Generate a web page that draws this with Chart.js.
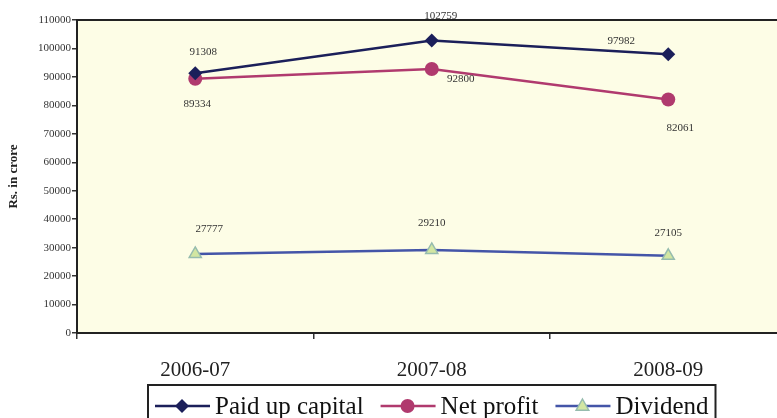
<!DOCTYPE html>
<html>
<head>
<meta charset="utf-8">
<script src="https://cdn.jsdelivr.net/npm/chart.js@4.4.1/dist/chart.umd.min.js"></script>
<style>
  html, body { margin: 0; padding: 0; background: #fff; overflow: hidden; }
  #wrap { width: 795px; height: 418px; }
</style>
</head>
<body>
<div id="wrap"><canvas id="chart"></canvas></div>
<script>
// chart values
var years = ['2006-07', '2007-08', '2008-09'];
var paidUpCapital = [91308, 102759, 97982];
var netProfit = [89334, 92800, 82061];
var dividend = [27777, 29210, 27105];
var yTicks = [0, 10000, 20000, 30000, 40000, 50000, 60000, 70000, 80000, 90000, 100000, 110000];

var serif = '"Liberation Serif", "DejaVu Serif", serif';

// where each value label sits relative to its point
var labelOffsets = [
    [[8, -21], [9, -24], [-47, -13]],
    [[2, 25], [29, 10], [12, 29]],
    [[14, -25], [0, -27], [0, -23]]
];

function drawMarker(ctx, style, x, y, r, fill, stroke, lw) {
    ctx.save();
    ctx.fillStyle = fill;
    ctx.strokeStyle = stroke;
    ctx.lineWidth = lw;
    ctx.beginPath();
    if (style === 'rectRot') {
        ctx.moveTo(x, y - r); ctx.lineTo(x + r, y); ctx.lineTo(x, y + r); ctx.lineTo(x - r, y);
    } else if (style === 'triangle') {
        ctx.moveTo(x, y - r); ctx.lineTo(x + r * 0.9, y + r * 0.6); ctx.lineTo(x - r * 0.9, y + r * 0.6);
    } else {
        ctx.arc(x, y, r, 0, Math.PI * 2);
    }
    ctx.closePath();
    ctx.fill();
    if (lw > 0) ctx.stroke();
    ctx.restore();
}

var framePlugin = {
    id: 'frame',
    beforeDraw: function(chart) {
        var a = chart.chartArea, ctx = chart.ctx;
        ctx.save();
        ctx.fillStyle = '#fdfde6';
        ctx.fillRect(a.left, a.top, a.right - a.left, a.bottom - a.top);
        ctx.restore();
    },
    afterDraw: function(chart) {
        var a = chart.chartArea, ctx = chart.ctx;
        ctx.save();
        ctx.strokeStyle = '#222';
        ctx.lineWidth = 2;
        ctx.beginPath();
        ctx.moveTo(a.left, a.top);
        ctx.lineTo(chart.width, a.top);
        ctx.stroke();
        ctx.restore();
    }
};

var valueLabels = {
    id: 'valueLabels',
    afterDatasetsDraw: function(chart) {
        var ctx = chart.ctx;
        ctx.save();
        ctx.font = '11px ' + serif;
        ctx.fillStyle = '#333';
        ctx.textAlign = 'center';
        ctx.textBaseline = 'middle';
        chart.data.datasets.forEach(function(ds, di) {
            chart.getDatasetMeta(di).data.forEach(function(pt, i) {
                var off = labelOffsets[di][i];
                ctx.fillText(String(ds.data[i]), pt.x + off[0], pt.y + off[1]);
            });
        });
        ctx.restore();
    }
};

var boxLegend = {
    id: 'boxLegend',
    afterDraw: function(chart) {
        var ctx = chart.ctx;
        var top = 385, midY = 406;
        ctx.save();
        ctx.font = '25px ' + serif;
        ctx.textBaseline = 'middle';
        var x = 155;
        chart.data.datasets.forEach(function(ds) {
            ctx.strokeStyle = ds.borderColor;
            ctx.lineWidth = 2.5;
            ctx.beginPath();
            ctx.moveTo(x, midY);
            ctx.lineTo(x + 55, midY);
            ctx.stroke();
            drawMarker(ctx, ds.pointStyle, x + 27, midY, ds.pointRadius, ds.pointBackgroundColor,
                ds.pointBorderColor, ds.pointBorderWidth);
            ctx.fillStyle = '#111';
            ctx.fillText(ds.label, x + 60, midY + 1);
            x = x + 60 + ctx.measureText(ds.label).width + 17;
        });
        ctx.strokeStyle = '#222';
        ctx.lineWidth = 2;
        ctx.strokeRect(148, top, x - 17 + 7 - 148, 40);
        ctx.restore();
    }
};

new Chart(document.getElementById('chart'), {
    type: 'line',
    data: {
        labels: years,
        datasets: [
            {
                label: 'Paid up capital',
                data: paidUpCapital,
                borderColor: '#1b1f5a',
                borderWidth: 2.5,
                pointStyle: 'rectRot',
                pointRadius: 7,
                pointBackgroundColor: '#1b1f5a',
                pointBorderColor: '#1b1f5a',
                pointBorderWidth: 0
            },
            {
                label: 'Net profit',
                data: netProfit,
                borderColor: '#b03a6e',
                borderWidth: 2.5,
                pointStyle: 'circle',
                pointRadius: 7,
                pointBackgroundColor: '#b03a6e',
                pointBorderColor: '#b03a6e',
                pointBorderWidth: 0
            },
            {
                label: 'Dividend',
                data: dividend,
                borderColor: '#4455a8',
                borderWidth: 2.5,
                pointStyle: 'triangle',
                pointRadius: 7,
                pointBackgroundColor: '#d2e6a2',
                pointBorderColor: '#96bcae',
                pointBorderWidth: 1.5
            }
        ]
    },
    options: {
        responsive: true,
        maintainAspectRatio: false,
        animation: false,
        layout: { padding: { top: 20, right: 8, bottom: 33, left: 0 } },
        plugins: {
            legend: { display: false },
            tooltip: { enabled: false }
        },
        scales: {
            x: {
                offset: true,
                afterFit: function(scale) { scale.height = 52; },
                grid: { offset: true, drawOnChartArea: false, tickLength: 6, color: '#333', lineWidth: 1.5 },
                border: { color: '#222', width: 2 },
                ticks: { font: { family: serif, size: 21 }, color: '#222', padding: 19 }
            },
            y: {
                min: 0,
                max: 110000,
                afterFit: function(scale) { scale.width = 77; },
                afterBuildTicks: function(scale) {
                    scale.ticks = yTicks.map(function(v) { return { value: v }; });
                },
                grid: { drawOnChartArea: false, tickLength: 5, color: '#333', lineWidth: 1.5 },
                border: { color: '#222', width: 2 },
                ticks: {
                    font: { family: serif, size: 11 },
                    color: '#333',
                    padding: 1,
                    callback: function(v) { return String(v); }
                },
                title: {
                    display: true,
                    text: 'Rs. in crore',
                    font: { family: serif, size: 13, weight: 'bold' },
                    color: '#222',
                    padding: { top: 6, bottom: 0 }
                }
            }
        }
    },
    plugins: [framePlugin, valueLabels, boxLegend]
});
</script>
</body>
</html>
